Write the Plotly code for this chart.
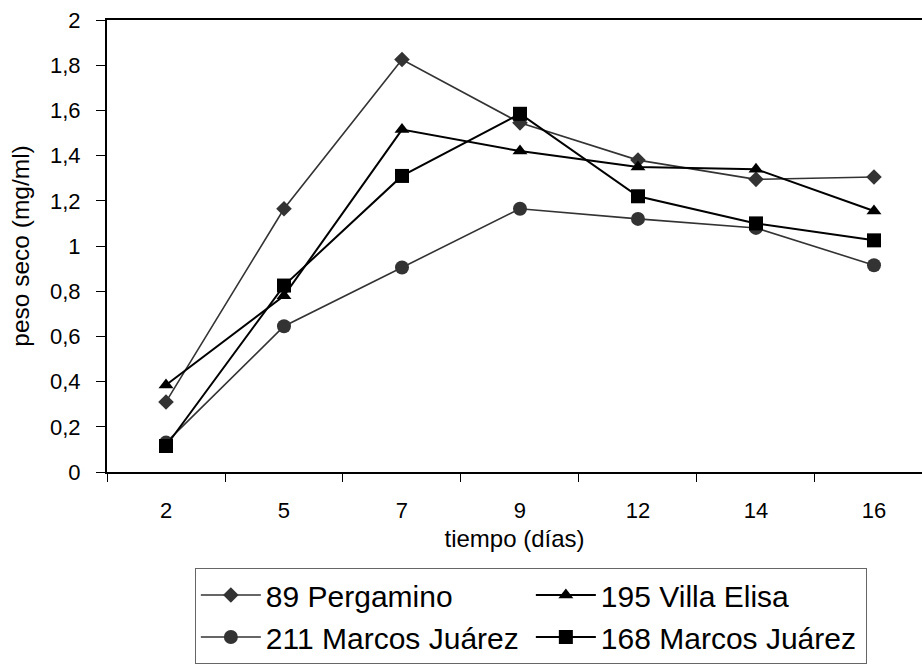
import plotly.graph_objects as go

dias = ["2", "5", "7", "9", "12", "14", "16"]
pergamino_89 = [0.31, 1.165, 1.825, 1.545, 1.38, 1.295, 1.305]
villa_elisa_195 = [0.385, 0.78, 1.515, 1.42, 1.35, 1.34, 1.155]
marcos_juarez_211 = [0.13, 0.645, 0.905, 1.165, 1.12, 1.08, 0.915]
marcos_juarez_168 = [0.115, 0.825, 1.31, 1.585, 1.22, 1.10, 1.025]
y_ticks = [0, 0.2, 0.4, 0.6, 0.8, 1, 1.2, 1.4, 1.6, 1.8, 2]

FONT = "Liberation Sans, Arial, sans-serif"
DARK = "#333333"

fig = go.Figure()
fig.add_trace(go.Scatter(x=dias, y=pergamino_89, name="89 Pergamino", mode="lines+markers",
                         line=dict(color=DARK, width=1.6),
                         marker=dict(symbol="diamond", size=12, color=DARK)))
fig.add_trace(go.Scatter(x=dias, y=villa_elisa_195, name="195 Villa Elisa", mode="lines+markers",
                         line=dict(color="#000000", width=2),
                         marker=dict(symbol="triangle-up", size=13, color="#000000")))
fig.add_trace(go.Scatter(x=dias, y=marcos_juarez_211, name="211 Marcos Juárez", mode="lines+markers",
                         line=dict(color=DARK, width=1.6),
                         marker=dict(symbol="circle", size=14, color=DARK)))
fig.add_trace(go.Scatter(x=dias, y=marcos_juarez_168, name="168 Marcos Juárez", mode="lines+markers",
                         line=dict(color="#000000", width=2),
                         marker=dict(symbol="square", size=14, color="#000000")))

fig.update_layout(
    width=922, height=668,
    margin=dict(l=107, r=0, t=20, b=196),
    paper_bgcolor="white", plot_bgcolor="white",
    separators=",.",
    font=dict(family=FONT, size=22, color="black"),
    legend=dict(orientation="h", x=0.1078, xanchor="left", y=-0.2124, yanchor="top",
                bordercolor="#666666", borderwidth=1,
                font=dict(family=FONT, size=30),
                entrywidth=260, entrywidthmode="pixels", traceorder="normal",
                itemwidth=60),
    xaxis=dict(type="category", range=[-0.5, 6.407], tickson="boundaries",
               ticks="outside", ticklen=8, tickcolor="black", tickwidth=1,
               ticklabelstandoff=18,
               showline=True, linecolor="black", linewidth=2, mirror=True,
               showgrid=False, zeroline=False,
               title=dict(text="tiempo (días)", font=dict(size=24), standoff=8)),
    yaxis=dict(range=[0, 2], tickvals=y_ticks, ticks="outside", ticklen=9,
               tickcolor="black", tickwidth=1, ticklabelstandoff=11,
               showline=True, linecolor="black", linewidth=2, mirror=False,
               showgrid=False, zeroline=False,
               title=dict(text="peso seco (mg/ml)", font=dict(size=24.5), standoff=13)),
)

fig.write_html("out.html")
